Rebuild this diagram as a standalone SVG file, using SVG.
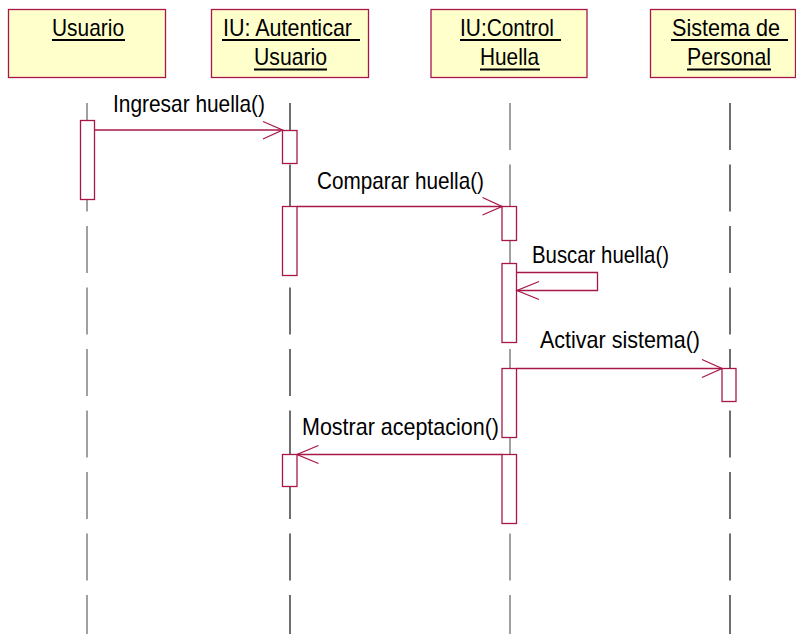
<svg xmlns="http://www.w3.org/2000/svg" width="796" height="634" viewBox="0 0 796 634">
  <style>
    .head { fill: #FFFFCC; stroke: #A8174A; stroke-width: 1.3; }
    .name { font-family: "Liberation Sans", Arial, sans-serif; font-size: 24px; fill: #000; }
    .ul { stroke: #000; stroke-width: 2; }
    .life { stroke: #222; stroke-width: 1.3; stroke-dasharray: 47 14.5; fill: none; }
    .life.grey { stroke: #6e6e6e; }
    .act { fill: #fff; stroke: #A8174A; stroke-width: 1.3; }
    .msg { stroke: #A8174A; stroke-width: 1.3; fill: none; }
    .lbl { font-family: "Liberation Sans", Arial, sans-serif; font-size: 24px; fill: #000; }
  </style>

  <!-- Usuario -->
  <g id="usuario">
    <rect class="head" x="8.5" y="9.5" width="157" height="68"/>
    <text class="name" x="52" y="36" textLength="72" lengthAdjust="spacingAndGlyphs">Usuario</text>
    <line class="ul" x1="52" y1="40" x2="125" y2="40"/>
    <line class="life grey" x1="87" y1="103" x2="87" y2="634"/>
    <rect class="act" x="80.5" y="120.5" width="14" height="79"/>
  </g>

  <!-- IU: Autenticar Usuario -->
  <g id="iu-autenticar">
    <rect class="head" x="211.5" y="9.5" width="157" height="68"/>
    <text class="name" x="223" y="36" textLength="129" lengthAdjust="spacingAndGlyphs">IU: Autenticar</text>
    <line class="ul" x1="222" y1="40" x2="360" y2="40"/>
    <text class="name" x="254" y="65" textLength="73" lengthAdjust="spacingAndGlyphs">Usuario</text>
    <line class="ul" x1="254" y1="69.5" x2="327" y2="69.5"/>
    <line class="life" x1="290" y1="103" x2="290" y2="634"/>
    <rect class="act" x="282.5" y="130.5" width="14.5" height="33"/>
    <rect class="act" x="282.5" y="206.5" width="14.5" height="69"/>
    <rect class="act" x="282.5" y="454.5" width="14.5" height="32"/>
  </g>

  <!-- IU:Control Huella -->
  <g id="iu-control">
    <rect class="head" x="431" y="9.5" width="156" height="68"/>
    <text class="name" x="460" y="36" textLength="94" lengthAdjust="spacingAndGlyphs">IU:Control</text>
    <line class="ul" x1="460" y1="40" x2="561" y2="40"/>
    <text class="name" x="480" y="65" textLength="59" lengthAdjust="spacingAndGlyphs">Huella</text>
    <line class="ul" x1="480" y1="69.5" x2="540" y2="69.5"/>
    <line class="life grey" x1="510" y1="103" x2="510" y2="634"/>
    <rect class="act" x="502" y="206.5" width="14.5" height="34"/>
    <rect class="act" x="502" y="263.5" width="14.5" height="79"/>
    <rect class="act" x="502" y="368.5" width="14.5" height="69"/>
    <rect class="act" x="502" y="454.5" width="14.5" height="69"/>
  </g>

  <!-- Sistema de Personal -->
  <g id="sistema-personal">
    <rect class="head" x="650.5" y="9.5" width="145" height="68"/>
    <text class="name" x="672" y="36" textLength="108" lengthAdjust="spacingAndGlyphs">Sistema de</text>
    <line class="ul" x1="671" y1="40" x2="788" y2="40"/>
    <text class="name" x="687" y="65" textLength="84" lengthAdjust="spacingAndGlyphs">Personal</text>
    <line class="ul" x1="687" y1="69.5" x2="771" y2="69.5"/>
    <line class="life" x1="730" y1="103" x2="730" y2="634"/>
    <rect class="act" x="722" y="368.5" width="14" height="33"/>
  </g>

  <!-- messages -->
  <g id="connectors">
    <!-- Ingresar huella() -->
    <line class="msg" x1="94.5" y1="130" x2="282.5" y2="130"/>
    <polyline class="msg" points="263,121.5 282.5,130 263,139"/>
    <text class="lbl" x="113" y="112" textLength="152" lengthAdjust="spacingAndGlyphs">Ingresar huella()</text>

    <!-- Comparar huella() -->
    <line class="msg" x1="297" y1="206.5" x2="502" y2="206.5"/>
    <polyline class="msg" points="482.5,197.5 502,206.5 482.5,215"/>
    <text class="lbl" x="317" y="189" textLength="167" lengthAdjust="spacingAndGlyphs">Comparar huella()</text>

    <!-- Buscar huella() (self call) -->
    <polyline class="msg" points="516.5,272.5 597.5,272.5 597.5,290.5 517,290.5"/>
    <polyline class="msg" points="539,281.5 517,290.5 539,299.5"/>
    <text class="lbl" x="532" y="263" textLength="137" lengthAdjust="spacingAndGlyphs">Buscar huella()</text>

    <!-- Activar sistema() -->
    <line class="msg" x1="516.5" y1="368.5" x2="722" y2="368.5"/>
    <polyline class="msg" points="702,359.5 722,368.5 702,377.5"/>
    <text class="lbl" x="540" y="348" textLength="160" lengthAdjust="spacingAndGlyphs">Activar sistema()</text>

    <!-- Mostrar aceptacion() -->
    <line class="msg" x1="502" y1="454.5" x2="297" y2="454.5"/>
    <polyline class="msg" points="318.5,445.5 297,454.5 318.5,463.5"/>
    <text class="lbl" x="302" y="435" textLength="197" lengthAdjust="spacingAndGlyphs">Mostrar aceptacion()</text>
  </g>
</svg>
